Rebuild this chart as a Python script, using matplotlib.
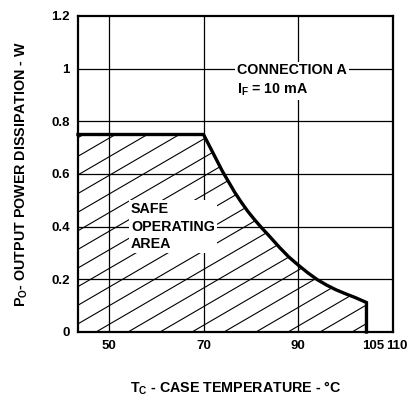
import matplotlib
matplotlib.use("Agg")
import matplotlib.pyplot as plt
import matplotlib.transforms as mtransforms
from matplotlib.patches import Polygon
from matplotlib.lines import Line2D

# ---- data ----
case_temp = [43.5, 70, 71, 72, 73, 74, 75.3, 76.6, 78, 79.4, 80.8, 82.2, 84, 86, 88,
             90, 92, 94, 96, 98, 100, 102, 104.4, 104.4]
power_w   = [0.75, 0.75, 0.715, 0.68, 0.645, 0.61, 0.57, 0.53, 0.492, 0.457, 0.426, 0.397,
             0.362, 0.322, 0.285, 0.254, 0.225, 0.199, 0.178, 0.16, 0.145, 0.131, 0.112, 0.0]
x_ticks = [50, 70, 90, 105, 110]
x_tick_labels = ["50", "70", "90", "105", "110"]
y_ticks = [0, 0.2, 0.4, 0.6, 0.8, 1.0, 1.2]
y_tick_labels = ["0", "0.2", "0.4", "0.6", "0.8", "1", "1.2"]
grid_x = [50, 70, 90]
grid_y = [0.2, 0.4, 0.6, 0.8, 1.0]

plt.rcParams['font.family'] = ['Liberation Sans', 'DejaVu Sans']
plt.rcParams['font.weight'] = 'bold'
plt.rcParams['mathtext.fontset'] = 'custom'
plt.rcParams['mathtext.rm'] = 'Liberation Sans:bold'
plt.rcParams['mathtext.it'] = 'Liberation Sans:bold'
plt.rcParams['mathtext.bf'] = 'Liberation Sans:bold'

fig = plt.figure(figsize=(4.17, 4.01), dpi=100)
ax = fig.add_axes([78/417, 69/401, 315/417, 316/401])
ax.set_xlim(43.5, 109.8)
ax.set_ylim(0, 1.2)

# grid
for gx in grid_x:
    ax.axvline(gx, color='black', lw=0.9, zorder=1)
for gy in grid_y:
    ax.axhline(gy, color='black', lw=0.9, zorder=1)

# safe operating area polygon (for clipping hatch)
verts = list(zip(case_temp, power_w)) + [(case_temp[0], 0.0)]
poly = Polygon(verts, closed=True, facecolor='none', edgecolor='none', transform=ax.transData)
ax.add_patch(poly)

# hatch lines (decoration) in axes coordinates, clipped to the area
slope = 0.58
spacing = 32 / 315
x0 = 18 / 315
for k in range(-12, 12):
    xs = x0 + k * spacing
    line = Line2D([xs, xs + 2], [0, 2 * slope], transform=ax.transAxes,
                  color='black', lw=0.8, zorder=1.5)
    ax.add_line(line)
    line.set_clip_path(poly)

# curve
ax.plot(case_temp, power_w, color='black', lw=2.4, solid_joinstyle='miter', zorder=4,
        clip_on=False)

# texts
ax.text(54.7, 0.40, "SAFE\nOPERATING\nAREA", ha='left', va='center', fontsize=10.3,
        fontweight='bold', linespacing=1.32, zorder=3,
        bbox=dict(facecolor='white', edgecolor='none', pad=1.5))
ax.text(77.0, 0.955, "CONNECTION A\nI$_{\\mathrm{F}}$ = 10 mA", ha='left', va='center',
        fontsize=10.3, fontweight='bold', linespacing=1.35, zorder=3,
        bbox=dict(facecolor='white', edgecolor='none', pad=1.5))

# ticks
ax.set_xticks(x_ticks)
ax.set_xticklabels(x_tick_labels)
ax.set_yticks(y_ticks)
ax.set_yticklabels(y_tick_labels)
ax.tick_params(axis='both', length=0, labelsize=9.5, pad=6)
for lab in ax.get_xticklabels():
    lab.set_fontweight('bold')
for lab in ax.get_yticklabels():
    lab.set_fontweight('bold')
off = mtransforms.ScaledTranslation(4/100, 0, fig.dpi_scale_trans)
for lab in ax.get_xticklabels()[3:]:
    lab.set_transform(lab.get_transform() + off)

for sp in ax.spines.values():
    sp.set_linewidth(1.6)

fig.text(236/417, 8/401, "T$_{\\mathrm{C}}$ - CASE TEMPERATURE - °C", ha='center',
         va='baseline', fontsize=10.3, fontweight='bold')
fig.text(22/417, 227/401, "P$_{\\mathrm{O}}$- OUTPUT POWER DISSIPATION - W", ha='center',
         va='center', rotation=90, fontsize=10.3, fontweight='bold')

fig.savefig("out.png", dpi=100, facecolor='white')
